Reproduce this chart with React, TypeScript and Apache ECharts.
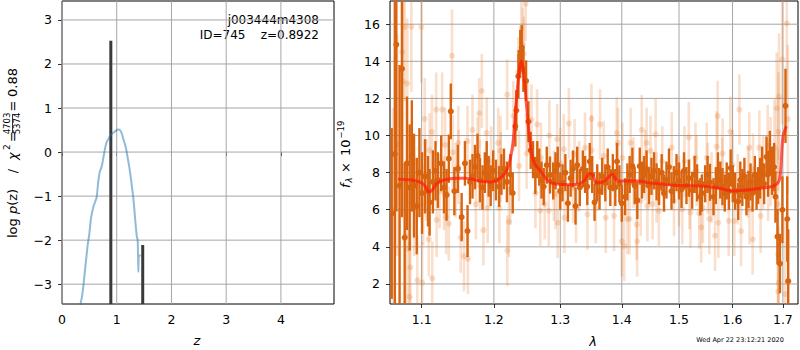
import { useEffect, useRef } from 'react';
import * as echarts from 'echarts';

// ---------- left panel: log p(z) ----------
const pzZ = [0.33, 0.341, 0.37, 0.402, 0.44, 0.47, 0.5, 0.53, 0.573, 0.6, 0.634, 0.66, 0.69, 0.725, 0.76, 0.79, 0.817, 0.85, 0.877, 0.92, 0.96, 1.0, 1.03, 1.06, 1.09, 1.12, 1.15, 1.17, 1.21, 1.243, 1.274, 1.304, 1.335, 1.365, 1.383, 1.395, 1.405, 1.44];
const pzLogp = [-3.7, -3.44, -3.25, -2.9, -2.45, -2.1, -1.85, -1.5, -1.25, -1.15, -1.02, -0.7, -0.45, -0.33, -0.1, 0.1, 0.23, 0.3, 0.37, 0.42, 0.46, 0.5, 0.515, 0.5, 0.43, 0.3, 0.18, 0.08, -0.2, -0.45, -0.75, -1.05, -1.5, -1.9, -2.0, -2.72, -2.35, -2.35];
const peakZ = [0.8922, 1.475];
const peakTop = [2.53, -2.11];
const zTicks = [0, 1, 2, 3, 4];
const logpTicks = [-3, -2, -1, 0, 1, 2, 3];

// ---------- right panel: spectrum ----------
const darkWave = [1.061, 1.065, 1.0669, 1.0711, 1.0742, 1.0777, 1.0807, 1.0842, 1.087, 1.0899, 1.0935, 1.097, 1.1005, 1.1045, 1.1084, 1.1106, 1.115, 1.1185, 1.1217, 1.1262, 1.13, 1.1335, 1.1366, 1.1393, 1.1442, 1.149, 1.1543, 1.1589, 1.1625, 1.166, 1.1695, 1.173, 1.1766, 1.18, 1.1837, 1.187, 1.1897, 1.1925, 1.1954, 1.199, 1.203, 1.2076, 1.211, 1.2147, 1.219, 1.2243, 1.2276, 1.2315, 1.233, 1.236, 1.2388, 1.241, 1.2435, 1.2475, 1.251, 1.2545, 1.258, 1.2615, 1.2645, 1.2675, 1.271, 1.2743, 1.279, 1.284, 1.289, 1.2925, 1.296, 1.3, 1.3035, 1.308, 1.312, 1.3163, 1.32, 1.3241, 1.3268, 1.331, 1.3358, 1.3395, 1.343, 1.347, 1.351, 1.3548, 1.3592, 1.363, 1.3673, 1.3725, 1.3765, 1.3808, 1.385, 1.3891, 1.392, 1.396, 1.4, 1.4055, 1.4095, 1.4134, 1.418, 1.422, 1.4265, 1.4307, 1.4345, 1.4381, 1.4425, 1.4467, 1.451, 1.4555, 1.46, 1.4643, 1.469, 1.4731, 1.4775, 1.482, 1.4865, 1.4909, 1.4955, 1.5, 1.5045, 1.509, 1.5135, 1.518, 1.524, 1.5285, 1.533, 1.539, 1.5418, 1.548, 1.5525, 1.557, 1.5637, 1.568, 1.572, 1.5765, 1.5806, 1.585, 1.5888, 1.593, 1.5964, 1.6005, 1.605, 1.611, 1.615, 1.619, 1.623, 1.627, 1.631, 1.635, 1.639, 1.6436, 1.647, 1.65, 1.654, 1.658, 1.662, 1.6668, 1.67, 1.6735, 1.678, 1.6822, 1.6849, 1.689, 1.694, 1.699, 1.7054, 1.709, 1.711];
const darkFlux = [5.8, 9.0, 14.9, 7.3, 13.6, 4.5, 8.5, 7.2, 8.9, 7.3, 6.2, 8.0, 6.9, 7.8, 7.0, 6.4, 7.5, 8.1, 7.6, 8.5, 7.2, 6.8, 8.75, 11.3, 7.0, 8.2, 5.6, 8.5, 4.85, 7.5, 7.8, 8.3, 8.9, 7.6, 7.2, 8.0, 8.6, 7.8, 7.3, 8.1, 7.6, 7.25, 7.9, 8.2, 7.5, 7.9, 6.9, 10.5, 11.35, 13.2, 14.5, 14.75, 13.55, 12.95, 10.75, 9.2, 8.7, 7.85, 8.7, 8.3, 7.6, 7.25, 8.4, 7.87, 7.55, 8.1, 8.4, 7.0, 7.45, 8.0, 6.35, 7.7, 8.2, 6.2, 8.4, 7.2, 8.2, 7.9, 7.25, 8.6, 7.9, 6.4, 7.45, 7.0, 7.8, 7.45, 8.3, 7.2, 8.0, 7.2, 8.6, 7.4, 6.35, 6.7, 7.5, 7.9, 8.35, 7.3, 6.5, 8.35, 7.6, 7.9, 8.2, 7.3, 7.8, 8.1, 7.5, 7.25, 8.0, 6.9, 7.6, 8.3, 7.0, 7.35, 8.0, 7.55, 7.1, 8.1, 7.3, 7.7, 7.05, 7.9, 7.45, 6.7, 6.9, 7.4, 7.9, 7.48, 6.7, 7.3, 8.1, 7.6, 7.25, 6.9, 7.55, 7.0, 8.25, 7.4, 7.0, 6.45, 7.6, 7.2, 7.8, 6.7, 7.1, 7.5, 6.9, 7.9, 7.0, 7.3, 7.7, 8.3, 7.4, 8.85, 7.9, 9.05, 8.1, 8.3, 6.7, 4.55, 3.1, 6.0, 11.6, 5.5, 2.15];
const darkErr = [4.6, 10, 9.0, 6.5, 8.0, 4.0, 3.6, 3.4, 3.0, 2.8, 2.6, 2.4, 2.2, 2.0, 1.9, 1.8, 1.7, 1.6, 1.5, 1.5, 1.4, 1.4, 1.3, 1.5, 1.3, 1.3, 1.3, 1.2, 1.4, 1.2, 1.2, 1.2, 1.2, 1.2, 1.2, 1.1, 1.1, 1.1, 1.1, 1.1, 1.1, 1.1, 1.1, 1.1, 1.1, 1.1, 1.1, 1.1, 1.1, 1.2, 1.2, 1.2, 1.2, 1.1, 1.1, 1.0, 1.0, 1.0, 1.0, 1.0, 1.0, 1.0, 1.0, 1.0, 1.0, 1.0, 1.0, 1.0, 1.0, 1.0, 1.0, 1.0, 1.0, 1.0, 1.0, 1.0, 1.0, 1.0, 1.0, 1.0, 1.0, 1.0, 1.0, 1.0, 1.0, 1.0, 1.0, 1.0, 1.0, 1.0, 1.0, 1.0, 1.0, 1.0, 1.0, 1.0, 1.0, 1.0, 1.0, 1.0, 1.0, 1.0, 1.0, 1.0, 1.0, 1.0, 1.0, 1.0, 1.0, 1.0, 1.0, 1.0, 1.0, 1.0, 1.0, 1.0, 1.0, 1.0, 1.0, 1.0, 1.0, 1.0, 1.0, 1.0, 1.0, 1.0, 1.0, 1.0, 1.0, 1.0, 1.0, 1.0, 1.0, 1.0, 1.0, 1.0, 1.0, 1.0, 1.0, 1.0, 1.0, 1.0, 1.0, 1.0, 1.0, 1.0, 1.0, 1.0, 1.0, 1.0, 1.1, 1.1, 1.1, 1.1, 1.2, 1.2, 1.3, 1.3, 1.4, 1.5, 1.6, 1.8, 2.0, 2.3, 2.8, 3.5, 5.0, 12, 4.9, 0.05];

const lightWave = [1.0625, 1.068, 1.0742, 1.0755, 1.0777, 1.079, 1.0811, 1.0821, 1.0842, 1.085, 1.0864, 1.09, 1.0942, 1.0995, 1.1006, 1.102, 1.104, 1.106, 1.1095, 1.1106, 1.1137, 1.1141, 1.1194, 1.12, 1.124, 1.1275, 1.13, 1.1316, 1.133, 1.1366, 1.141, 1.142, 1.146, 1.15, 1.1497, 1.153, 1.1575, 1.1625, 1.163, 1.1695, 1.1743, 1.1766, 1.179, 1.18, 1.1827, 1.185, 1.1897, 1.191, 1.196, 1.2063, 1.208, 1.2097, 1.21, 1.2194, 1.2196, 1.2219, 1.224, 1.2284, 1.2358, 1.2369, 1.2405, 1.2425, 1.244, 1.2468, 1.2483, 1.2493, 1.2556, 1.2617, 1.2642, 1.269, 1.27, 1.2758, 1.282, 1.283, 1.29, 1.2924, 1.2951, 1.296, 1.3, 1.3055, 1.3065, 1.3136, 1.32, 1.3226, 1.325, 1.33, 1.3394, 1.3433, 1.3498, 1.35, 1.3568, 1.3638, 1.37, 1.3732, 1.387, 1.3915, 1.3937, 1.4, 1.401, 1.4039, 1.4095, 1.413, 1.4152, 1.42, 1.4255, 1.4262, 1.4323, 1.434, 1.44, 1.4426, 1.444, 1.4494, 1.453, 1.4583, 1.46, 1.464, 1.47, 1.4869, 1.491, 1.5, 1.5059, 1.51, 1.5178, 1.519, 1.5209, 1.53, 1.532, 1.537, 1.5406, 1.5436, 1.5509, 1.553, 1.5559, 1.56, 1.5666, 1.5696, 1.5715, 1.5728, 1.58, 1.5809, 1.5926, 1.5958, 1.6, 1.6035, 1.61, 1.6132, 1.6165, 1.63, 1.6327, 1.633, 1.6392, 1.64, 1.6524, 1.655, 1.66, 1.6692, 1.67, 1.675, 1.6828, 1.6875, 1.6895, 1.69, 1.6905, 1.691, 1.6915, 1.692, 1.6986, 1.7048, 1.7081, 1.7102];
const lightFlux = [6.0, 9.5, 14.5, 12.9, 15.85, 4.6, 12.8, 3.9, 1.3, 2.9, 15.85, 6.3, 2.2, 15.85, 2.07, 6.3, 10.9, 7.6, 4.4, 9.2, 10.2, 2.3, 11.4, 5.45, 7.0, 11.4, 6.9, 9.5, 5.6, 5.25, 14.3, 9.1, 7.6, 8.3, 9.6, 4.5, 3.5, 9.7, 3.35, 10.3, 6.3, 9.1, 11.2, 7.9, 12.4, 4.9, 10.15, 6.1, 8.6, 9.6, 6.1, 9.17, 8.3, 12.2, 3.8, 5.35, 7.1, 11.05, 13.4, 8.36, 15.8, 14.9, 14.4, 17.1, 9.03, 11.05, 10.85, 6.9, 10.6, 5.95, 8.8, 6.3, 5.95, 10.0, 7.3, 6.85, 9.8, 5.3, 8.5, 9.26, 5.57, 10.65, 7.2, 8.99, 6.1, 7.8, 9.35, 5.75, 10.9, 9.2, 6.1, 10.6, 8.9, 5.57, 5.67, 10.15, 9.6, 4.3, 8.8, 4.05, 5.5, 5.5, 9.6, 8.0, 5.2, 4.3, 6.47, 10.3, 8.4, 9.6, 6.2, 9.17, 6.3, 10.07, 7.2, 5.95, 8.6, 9.35, 6.47, 7.0, 6.03, 8.6, 9.9, 6.85, 5.85, 8.8, 8.1, 5.8, 5.05, 6.1, 8.8, 7.7, 5.5, 7.2, 4.6, 9.4, 11.05, 5.3, 8.0, 9.03, 5.4, 10.2, 8.4, 5.4, 7.1, 11.4, 4.85, 7.5, 9.35, 6.03, 4.4, 8.2, 9.35, 5.67, 8.0, 9.45, 7.6, 8.6, 9.35, 11.47, 6.3, 3.6, 1.6, 10.2, 2.07, 12.1, 14.1, 1.45, 16.05, 10.88];
const lightErr = [5.5, 6.0, 5.0, 4.5, 4.0, 4.0, 3.5, 3.2, 3.0, 3.0, 3.5, 2.8, 2.4, 3.0, 2.2, 2.2, 2.2, 2.2, 2.0, 2.0, 2.0, 2.0, 2.0, 2.0, 2.0, 2.0, 2.0, 2.0, 2.0, 2.0, 2.5, 2.0, 2.0, 2.0, 2.0, 1.9, 1.9, 1.9, 1.9, 1.9, 1.9, 1.9, 1.9, 1.9, 2.0, 1.9, 1.9, 1.9, 1.9, 1.9, 1.9, 1.9, 1.9, 1.9, 1.9, 1.9, 1.9, 1.9, 1.9, 1.9, 2.0, 2.0, 2.0, 2.0, 1.9, 1.9, 1.9, 1.9, 1.9, 1.9, 1.9, 1.9, 1.9, 1.9, 1.9, 1.9, 1.9, 1.9, 1.9, 1.9, 1.9, 1.9, 1.9, 1.9, 1.9, 1.9, 1.9, 1.9, 1.9, 1.9, 1.9, 1.9, 1.9, 1.9, 1.9, 1.9, 1.9, 1.9, 1.9, 1.9, 1.9, 1.9, 1.9, 1.9, 1.9, 1.9, 1.9, 1.9, 1.9, 1.9, 1.9, 1.9, 1.9, 1.9, 1.9, 1.9, 1.9, 1.9, 1.9, 1.9, 1.9, 1.9, 1.9, 1.9, 1.9, 1.9, 1.9, 1.9, 1.9, 1.9, 1.9, 1.9, 1.9, 1.9, 1.9, 1.9, 1.9, 1.9, 1.9, 1.9, 1.9, 1.9, 1.9, 1.9, 1.9, 1.9, 1.9, 1.9, 1.9, 1.9, 1.9, 1.9, 2.0, 2.0, 2.0, 2.2, 2.2, 2.4, 2.6, 3.0, 3.0, 3.0, 3.0, 3.2, 3.0, 3.4, 3.5, 4.0, 4.0, 4.0];

const modelWave = [1.069, 1.08, 1.09, 1.1, 1.105, 1.11, 1.115, 1.12, 1.13, 1.145, 1.16, 1.18, 1.195, 1.205, 1.215, 1.221, 1.227, 1.23, 1.2337, 1.2378, 1.2405, 1.2435, 1.2475, 1.252, 1.256, 1.261, 1.269, 1.277, 1.285, 1.299, 1.315, 1.331, 1.339, 1.347, 1.352, 1.358, 1.368, 1.376, 1.3838, 1.393, 1.404, 1.429, 1.447, 1.482, 1.5, 1.538, 1.575, 1.598, 1.622, 1.651, 1.681, 1.692, 1.696, 1.7, 1.707];
const modelFlux = [7.65, 7.62, 7.58, 7.45, 7.25, 6.95, 7.1, 7.4, 7.6, 7.7, 7.7, 7.55, 7.5, 7.6, 7.9, 8.3, 9.35, 10.4, 12.2, 13.65, 14.0, 13.5, 11.9, 10.1, 9.0, 8.45, 8.1, 7.73, 7.46, 7.37, 7.35, 7.4, 7.6, 7.95, 7.85, 7.45, 7.5, 7.7, 7.91, 7.55, 7.55, 7.55, 7.45, 7.34, 7.3, 7.28, 7.16, 7.01, 7.05, 7.15, 7.28, 7.55, 8.27, 9.9, 10.5];

const lamTicks = [1.1, 1.2, 1.3, 1.4, 1.5, 1.6, 1.7];
const fluxTicks = [2, 4, 6, 8, 10, 12, 14, 16];

// axis ranges
const zRange = [0, 4.97];
const logpRange = [-3.45, 3.43];
const lamRange = [1.0588, 1.7313];
const fluxRange = [0.92, 17.25];

const FONT = 'DejaVu Sans';
const DARK = '#d9640f';
const LIGHT = 'rgba(228,120,40,0.24)';
const GRIDC = '#a6a6a6';

const errRender = (color: string, lw: number, r: number) => (_p: any, api: any) => {
  const x = api.value(0);
  const y = api.value(1);
  const e = api.value(2);
  const a = api.coord([x, y - e]);
  const b = api.coord([x, y + e]);
  const c = api.coord([x, y]);
  return {
    type: 'group',
    children: [
      { type: 'line', shape: { x1: a[0], y1: a[1], x2: b[0], y2: b[1] }, style: { stroke: color, lineWidth: lw } },
      { type: 'circle', shape: { cx: c[0], cy: c[1], r }, style: { fill: color } },
    ],
  };
};

// grid lines at tick values, as two-point line series on the axes' own scales
const gridLineSeries = (idx: number, xs: number[], ys: number[], xr: number[], yr: number[]) => [
  ...xs.map((v) => ({
    type: 'line', xAxisIndex: idx, yAxisIndex: idx, z: 1, silent: true, showSymbol: false, symbol: 'none',
    data: [[v, yr[0]], [v, yr[1]]],
    lineStyle: { color: GRIDC, width: 1 },
  })),
  ...ys.map((v) => ({
    type: 'line', xAxisIndex: idx, yAxisIndex: idx, z: 1, silent: true, showSymbol: false, symbol: 'none',
    data: [[xr[0], v], [xr[1], v]],
    lineStyle: { color: GRIDC, width: 1 },
  })),
];

const tickStyle = { show: true, inside: false, length: 4, lineStyle: { color: '#000', width: 0.8 } };
const lbl = { color: '#000', fontSize: 12.5, fontFamily: FONT };
const T = (text: string, x: number, y: number, size: number, extra: any = {}) => ({
  type: 'text',
  style: { text, x, y, align: 'left', verticalAlign: 'middle', fill: '#000', fontSize: size, fontFamily: FONT, ...extra },
});

export default function App() {
  const ref = useRef<HTMLDivElement>(null);
  useEffect(() => {
    if (!ref.current) return;
    const chart = echarts.init(ref.current, null, { renderer: 'svg' });
    const lnTicks = lamTicks.map((v) => Math.log(v));
    const lnRange = lamRange.map((v) => Math.log(v));
    const option: any = {
      animation: false,
      grid: [
        { left: 62, top: 1, width: 272, height: 303, show: true, borderColor: '#000', borderWidth: 1, backgroundColor: 'transparent' },
        { left: 390, top: 1, width: 408, height: 303, show: true, borderColor: '#000', borderWidth: 1, backgroundColor: 'transparent' },
      ],
      xAxis: [
        {
          type: 'value', gridIndex: 0, min: zRange[0], max: zRange[1],
          axisLine: { show: false },
          axisTick: { ...tickStyle, customValues: zTicks },
          axisLabel: { ...lbl, margin: 9, customValues: zTicks },
          splitLine: { show: false },
        },
        {
          type: 'value', gridIndex: 1, min: lnRange[0], max: lnRange[1],
          axisLine: { show: false },
          axisTick: { ...tickStyle, customValues: lnTicks },
          axisLabel: { ...lbl, margin: 9, customValues: lnTicks, formatter: (v: number) => Math.exp(v).toFixed(1) },
          splitLine: { show: false },
        },
      ],
      yAxis: [
        {
          type: 'value', gridIndex: 0, min: logpRange[0], max: logpRange[1],
          axisLine: { show: false },
          axisTick: { ...tickStyle, customValues: logpTicks },
          axisLabel: { ...lbl, margin: 10, customValues: logpTicks, formatter: (v: number) => (v < 0 ? '\u2212' + Math.abs(v) : String(v)) },
          splitLine: { show: false },
        },
        {
          type: 'value', gridIndex: 1, min: fluxRange[0], max: fluxRange[1],
          axisLine: { show: false },
          axisTick: { ...tickStyle, customValues: fluxTicks },
          axisLabel: { ...lbl, margin: 10, customValues: fluxTicks },
          splitLine: { show: false },
        },
      ],
      series: [
        ...gridLineSeries(0, zTicks, logpTicks, zRange, logpRange),
        ...gridLineSeries(1, lnTicks, fluxTicks, lnRange, fluxRange),
        {
          type: 'line', xAxisIndex: 0, yAxisIndex: 0, z: 3,
          data: pzZ.map((z, i) => [z, pzLogp[i]]),
          showSymbol: false, smooth: 0.2,
          lineStyle: { color: '#1f77b4', opacity: 0.5, width: 2 },
          clip: true,
        },
        {
          type: 'custom', xAxisIndex: 0, yAxisIndex: 0, clip: true, z: 3,
          data: peakZ.map((z, i) => [z, peakTop[i]]),
          encode: { x: 0, y: 1 },
          renderItem: (_p: any, api: any) => {
            const a = api.coord([api.value(0), -10]);
            const b = api.coord([api.value(0), api.value(1)]);
            return { type: 'line', shape: { x1: a[0], y1: a[1], x2: b[0], y2: b[1] }, style: { stroke: '#3a3a3a', lineWidth: 3 } };
          },
        },
        {
          type: 'custom', xAxisIndex: 1, yAxisIndex: 1, clip: true, z: 3,
          data: lightWave.map((w, i) => [Math.log(w), lightFlux[i], lightErr[i]]),
          encode: { x: 0, y: 1 },
          renderItem: errRender(LIGHT, 2.6, 3),
        },
        {
          type: 'custom', xAxisIndex: 1, yAxisIndex: 1, clip: true, z: 4,
          data: darkWave.map((w, i) => [Math.log(w), darkFlux[i], darkErr[i]]),
          encode: { x: 0, y: 1 },
          renderItem: errRender(DARK, 2.4, 3),
        },
        {
          type: 'line', xAxisIndex: 1, yAxisIndex: 1, z: 5,
          data: modelWave.map((w, i) => [Math.log(w), modelFlux[i]]),
          showSymbol: false, smooth: 0.3,
          lineStyle: { color: '#ff1a0a', opacity: 0.7, width: 3 },
          clip: true,
        },
      ],
      graphic: [
        T('j003444m4308', 319, 20, 12, { align: 'right' }),
        T('ID=745    z=0.8922', 319, 34.5, 12, { align: 'right' }),
        T('z', 197, 340, 13, { align: 'center', fontStyle: 'italic' }),
        T('λ', 593, 341, 13, { align: 'center', fontStyle: 'italic' }),
        T('Wed Apr 22 23:12:21 2020', 740, 339.5, 6.5, { align: 'center' }),
        {
          type: 'group', x: 12, y: 238, rotation: Math.PI / 2,
          children: [
            T('{n|log }{i|p}{n|(z)}', 0, 0, 13, { rich: { n: { fontSize: 13, fontFamily: FONT }, i: { fontSize: 13, fontFamily: FONT, fontStyle: 'italic' } } }),
            T('/', 67, 0, 13, { align: 'center' }),
            T('χ', 78, 0, 13, { fontStyle: 'italic' }),
            T('2', 88, -5, 9),
            T('=', 101.5, 0, 13, { align: 'center' }),
            T('4703', 114.5, -4.8, 8.5, { align: 'center' }),
            { type: 'line', shape: { x1: 105, y1: 0.5, x2: 124, y2: 0.5 }, style: { stroke: '#000', lineWidth: 0.8 } },
            T('5374', 114.5, 5.2, 8.5, { align: 'center' }),
            T('=', 132, 0, 13, { align: 'center' }),
            T('0.88', 141, 0, 13),
          ],
        },
        {
          type: 'group', x: 345, y: 189, rotation: Math.PI / 2,
          children: [
            T('f', 1, 0, 13, { fontStyle: 'italic' }),
            T('λ', 6.5, 4, 8.5, { fontStyle: 'italic' }),
            T('×', 21.5, 0, 13, { align: 'center' }),
            T('10', 33, 0, 13),
            T('\u221219', 50.5, -4.5, 8.5),
          ],
        },
      ],
    };
    chart.setOption(option);
    return () => chart.dispose();
  }, []);
  return <div ref={ref} style={{ position: 'fixed', left: 0, top: 0, width: 800, height: 350, background: '#fff' }} />;
}
